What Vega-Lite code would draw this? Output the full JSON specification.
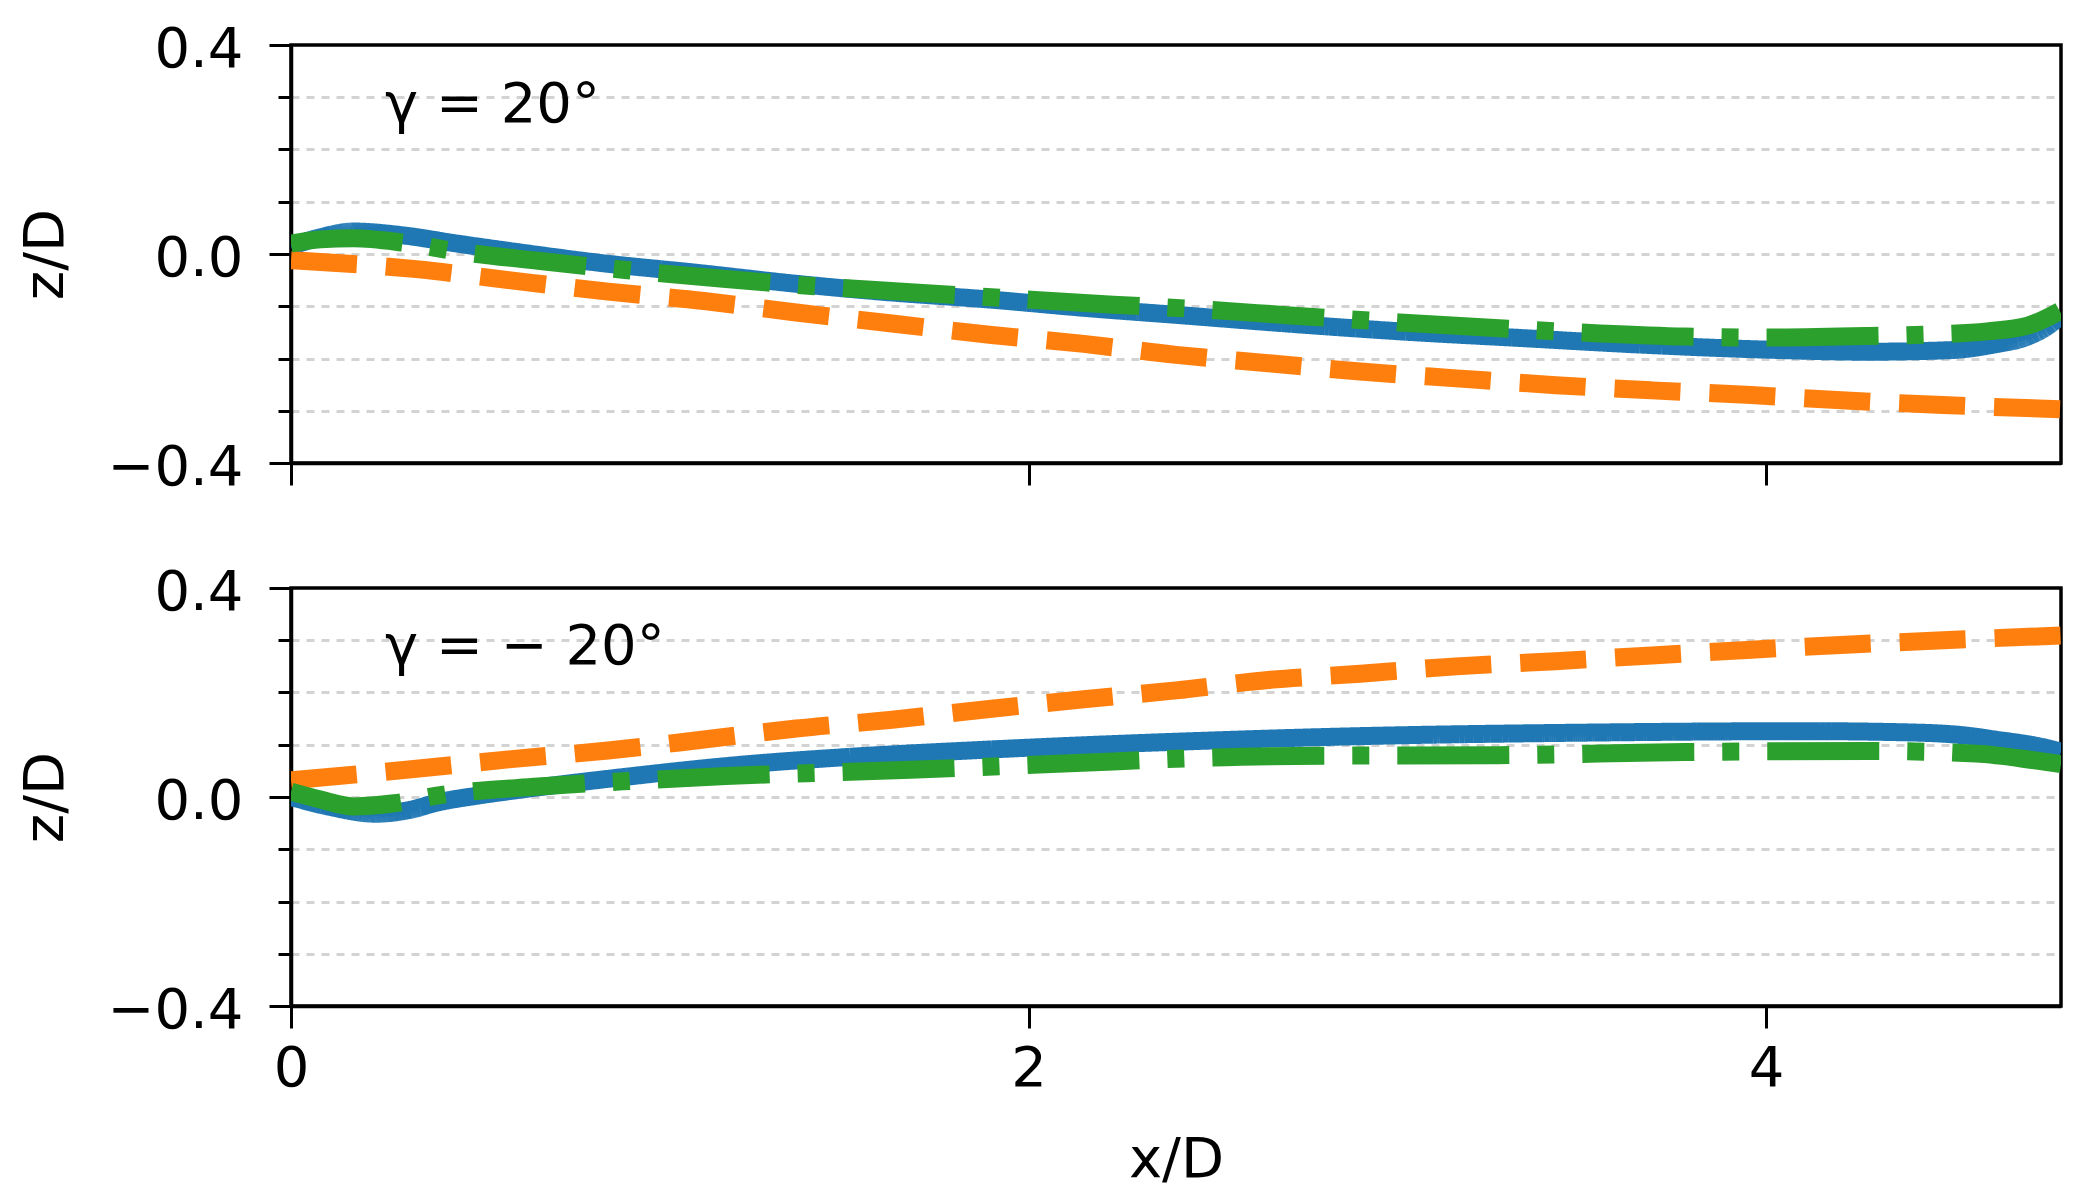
{
  "$schema": "https://vega.github.io/schema/vega-lite/v6.json",
  "background": "white",
  "padding": {"left": 15, "top": 19, "right": 20, "bottom": 0},
  "config": {
    "font": "DejaVu Sans",
    "view": {"stroke": "black", "strokeWidth": 3.5},
    "concat": {"spacing": 65},
    "axis": {
      "domainColor": "black",
      "domainWidth": 3.5,
      "tickColor": "black",
      "tickWidth": 3,
      "labelColor": "black",
      "labelFont": "DejaVu Sans",
      "labelFontSize": 56,
      "labelFlush": false,
      "titleColor": "black",
      "titleFont": "DejaVu Sans",
      "titleFontSize": 56,
      "titleFontWeight": "normal"
    }
  },
  "datasets": {
    "top": [
      {"style": "solid", "x": 0, "z": 0.015},
      {"style": "solid", "x": 0.08, "z": 0.032},
      {"style": "solid", "x": 0.17, "z": 0.043},
      {"style": "solid", "x": 0.3, "z": 0.036},
      {"style": "solid", "x": 0.45, "z": 0.02},
      {"style": "solid", "x": 0.6, "z": 0.005},
      {"style": "solid", "x": 0.85, "z": -0.018},
      {"style": "solid", "x": 1.1, "z": -0.036},
      {"style": "solid", "x": 1.37, "z": -0.057},
      {"style": "solid", "x": 1.6, "z": -0.072},
      {"style": "solid", "x": 1.91, "z": -0.088},
      {"style": "solid", "x": 2.15, "z": -0.103},
      {"style": "solid", "x": 2.41, "z": -0.117},
      {"style": "solid", "x": 2.72, "z": -0.134},
      {"style": "solid", "x": 3.03, "z": -0.149},
      {"style": "solid", "x": 3.34, "z": -0.161},
      {"style": "solid", "x": 3.65, "z": -0.173},
      {"style": "solid", "x": 4.0, "z": -0.183},
      {"style": "solid", "x": 4.28, "z": -0.187},
      {"style": "solid", "x": 4.5, "z": -0.184},
      {"style": "solid", "x": 4.62, "z": -0.173},
      {"style": "solid", "x": 4.71, "z": -0.158},
      {"style": "solid", "x": 4.76, "z": -0.14},
      {"style": "solid", "x": 4.8, "z": -0.118},
      {"style": "dashed", "x": 0, "z": -0.012},
      {"style": "dashed", "x": 0.34, "z": -0.029},
      {"style": "dashed", "x": 0.59, "z": -0.05},
      {"style": "dashed", "x": 0.86, "z": -0.072},
      {"style": "dashed", "x": 1.12, "z": -0.09},
      {"style": "dashed", "x": 1.37, "z": -0.112},
      {"style": "dashed", "x": 1.63, "z": -0.133},
      {"style": "dashed", "x": 1.9, "z": -0.155},
      {"style": "dashed", "x": 2.15, "z": -0.172},
      {"style": "dashed", "x": 2.4, "z": -0.193},
      {"style": "dashed", "x": 2.65, "z": -0.209},
      {"style": "dashed", "x": 2.9, "z": -0.225},
      {"style": "dashed", "x": 3.16, "z": -0.238},
      {"style": "dashed", "x": 3.43, "z": -0.251},
      {"style": "dashed", "x": 3.69, "z": -0.261},
      {"style": "dashed", "x": 3.96, "z": -0.27},
      {"style": "dashed", "x": 4.23, "z": -0.281},
      {"style": "dashed", "x": 4.48, "z": -0.289},
      {"style": "dashed", "x": 4.8, "z": -0.297},
      {"style": "dashdot", "x": 0, "z": 0.02},
      {"style": "dashdot", "x": 0.08, "z": 0.028},
      {"style": "dashdot", "x": 0.17, "z": 0.03},
      {"style": "dashdot", "x": 0.3, "z": 0.022},
      {"style": "dashdot", "x": 0.45, "z": 0.005},
      {"style": "dashdot", "x": 0.67, "z": -0.013},
      {"style": "dashdot", "x": 0.9, "z": -0.03},
      {"style": "dashdot", "x": 1.18, "z": -0.048},
      {"style": "dashdot", "x": 1.45, "z": -0.063},
      {"style": "dashdot", "x": 1.68, "z": -0.073},
      {"style": "dashdot", "x": 1.95, "z": -0.085},
      {"style": "dashdot", "x": 2.23, "z": -0.097},
      {"style": "dashdot", "x": 2.47, "z": -0.106},
      {"style": "dashdot", "x": 2.72, "z": -0.118},
      {"style": "dashdot", "x": 3.03, "z": -0.132},
      {"style": "dashdot", "x": 3.3, "z": -0.143},
      {"style": "dashdot", "x": 3.55, "z": -0.152},
      {"style": "dashdot", "x": 3.78, "z": -0.158},
      {"style": "dashdot", "x": 4.0, "z": -0.16},
      {"style": "dashdot", "x": 4.28, "z": -0.157},
      {"style": "dashdot", "x": 4.44, "z": -0.154},
      {"style": "dashdot", "x": 4.6, "z": -0.148},
      {"style": "dashdot", "x": 4.71, "z": -0.137},
      {"style": "dashdot", "x": 4.8, "z": -0.108}
    ],
    "bottom": [
      {"style": "solid", "x": 0, "z": 0.0},
      {"style": "solid", "x": 0.1, "z": -0.018},
      {"style": "solid", "x": 0.23, "z": -0.032},
      {"style": "solid", "x": 0.32, "z": -0.025},
      {"style": "solid", "x": 0.4, "z": -0.01},
      {"style": "solid", "x": 0.5, "z": 0.002},
      {"style": "solid", "x": 0.6, "z": 0.012},
      {"style": "solid", "x": 0.9, "z": 0.038},
      {"style": "solid", "x": 1.21, "z": 0.061},
      {"style": "solid", "x": 1.52, "z": 0.077},
      {"style": "solid", "x": 1.84, "z": 0.089},
      {"style": "solid", "x": 2.15, "z": 0.099},
      {"style": "solid", "x": 2.41, "z": 0.106},
      {"style": "solid", "x": 2.87, "z": 0.116},
      {"style": "solid", "x": 3.49, "z": 0.123},
      {"style": "solid", "x": 4.11, "z": 0.126},
      {"style": "solid", "x": 4.42, "z": 0.123},
      {"style": "solid", "x": 4.55, "z": 0.117},
      {"style": "solid", "x": 4.62, "z": 0.11},
      {"style": "solid", "x": 4.74, "z": 0.097},
      {"style": "solid", "x": 4.8, "z": 0.087},
      {"style": "dashed", "x": 0, "z": 0.032},
      {"style": "dashed", "x": 0.34, "z": 0.054},
      {"style": "dashed", "x": 0.59, "z": 0.072},
      {"style": "dashed", "x": 0.86, "z": 0.089},
      {"style": "dashed", "x": 1.12, "z": 0.11},
      {"style": "dashed", "x": 1.37, "z": 0.131},
      {"style": "dashed", "x": 1.63, "z": 0.148},
      {"style": "dashed", "x": 1.9, "z": 0.169},
      {"style": "dashed", "x": 2.15, "z": 0.187},
      {"style": "dashed", "x": 2.4, "z": 0.204},
      {"style": "dashed", "x": 2.65, "z": 0.224},
      {"style": "dashed", "x": 2.9, "z": 0.236},
      {"style": "dashed", "x": 3.16, "z": 0.25},
      {"style": "dashed", "x": 3.43, "z": 0.26},
      {"style": "dashed", "x": 3.69, "z": 0.271},
      {"style": "dashed", "x": 3.96, "z": 0.282},
      {"style": "dashed", "x": 4.23, "z": 0.292},
      {"style": "dashed", "x": 4.48, "z": 0.3},
      {"style": "dashed", "x": 4.8, "z": 0.309},
      {"style": "dashdot", "x": 0, "z": 0.01},
      {"style": "dashdot", "x": 0.08, "z": -0.005},
      {"style": "dashdot", "x": 0.17, "z": -0.018},
      {"style": "dashdot", "x": 0.28, "z": -0.012},
      {"style": "dashdot", "x": 0.4, "z": 0.003},
      {"style": "dashdot", "x": 0.67, "z": 0.02},
      {"style": "dashdot", "x": 0.9, "z": 0.03},
      {"style": "dashdot", "x": 1.18, "z": 0.04},
      {"style": "dashdot", "x": 1.68, "z": 0.052},
      {"style": "dashdot", "x": 2.23, "z": 0.068},
      {"style": "dashdot", "x": 2.47, "z": 0.075},
      {"style": "dashdot", "x": 2.8, "z": 0.079},
      {"style": "dashdot", "x": 3.26, "z": 0.08},
      {"style": "dashdot", "x": 3.78, "z": 0.086},
      {"style": "dashdot", "x": 4.28, "z": 0.088},
      {"style": "dashdot", "x": 4.57, "z": 0.083},
      {"style": "dashdot", "x": 4.73, "z": 0.07},
      {"style": "dashdot", "x": 4.8, "z": 0.063}
    ]
  },
  "vconcat": [
    {
      "width": 1770,
      "height": 418,
      "encoding": {
        "x": {
          "field": "x", "type": "quantitative",
          "scale": {"domain": [0, 4.8], "nice": false, "zero": false},
          "axis": {"values": [0, 2, 4], "labels": false, "title": null, "grid": false, "tickSize": 22}
        },
        "y": {
          "field": "z", "type": "quantitative",
          "scale": {"domain": [-0.4, 0.4], "nice": false},
          "axis": {
            "values": [-0.4, -0.3, -0.2, -0.1, 0, 0.1, 0.2, 0.3, 0.4],
            "labelExpr": "abs(datum.value) < 0.01 || abs(datum.value) > 0.39 ? format(datum.value, '.1f') : ''",
            "tickSize": {"condition": {"test": "abs(datum.value) < 0.01 || abs(datum.value) > 0.39", "value": 22}, "value": 13},
            "labelPadding": 26,
            "labelOffset": 4,
            "grid": true, "gridColor": "#d3d3d3", "gridDash": [8, 7], "gridWidth": 3,
            "gridOpacity": {"condition": {"test": "abs(datum.value) > 0.39", "value": 0}, "value": 1},
            "title": "z/D", "titleAngle": -90, "titleAlign": "center", "titleBaseline": "alphabetic",
            "titleX": -229, "titleY": 209
          }
        }
      },
      "layer": [
        {
          "data": {"name": "top"},
          "mark": {"type": "line", "strokeWidth": 18, "clip": true, "interpolate": "monotone"},
          "encoding": {
            "color": {"field": "style", "type": "nominal", "scale": {"domain": ["solid", "dashed", "dashdot"], "range": ["#1f77b4", "#ff7f0e", "#2ca02c"]}, "legend": null},
            "strokeDash": {"field": "style", "type": "nominal", "scale": {"domain": ["solid", "dashed", "dashdot"], "range": [[1, 0], [66, 29], [112, 28, 17, 28]]}, "legend": null}
          }
        },
        {
          "data": {"values": [{"x": 0.255, "z": 0.253, "label": "γ = 20°"}]},
          "mark": {"type": "text", "align": "left", "baseline": "alphabetic", "fontSize": 56, "font": "DejaVu Sans", "color": "black"},
          "encoding": {"text": {"field": "label"}}
        }
      ]
    },
    {
      "width": 1770,
      "height": 418,
      "encoding": {
        "x": {
          "field": "x", "type": "quantitative",
          "scale": {"domain": [0, 4.8], "nice": false, "zero": false},
          "axis": {"values": [0, 2, 4], "format": "d", "grid": false, "tickSize": 22, "labelPadding": 13,
                   "title": "x/D", "titleBaseline": "alphabetic", "titleY": 170}
        },
        "y": {
          "field": "z", "type": "quantitative",
          "scale": {"domain": [-0.4, 0.4], "nice": false},
          "axis": {
            "values": [-0.4, -0.3, -0.2, -0.1, 0, 0.1, 0.2, 0.3, 0.4],
            "labelExpr": "abs(datum.value) < 0.01 || abs(datum.value) > 0.39 ? format(datum.value, '.1f') : ''",
            "tickSize": {"condition": {"test": "abs(datum.value) < 0.01 || abs(datum.value) > 0.39", "value": 22}, "value": 13},
            "labelPadding": 26,
            "labelOffset": 4,
            "grid": true, "gridColor": "#d3d3d3", "gridDash": [8, 7], "gridWidth": 3,
            "gridOpacity": {"condition": {"test": "abs(datum.value) > 0.39", "value": 0}, "value": 1},
            "title": "z/D", "titleAngle": -90, "titleAlign": "center", "titleBaseline": "alphabetic",
            "titleX": -229, "titleY": 209
          }
        }
      },
      "layer": [
        {
          "data": {"name": "bottom"},
          "mark": {"type": "line", "strokeWidth": 18, "clip": true, "interpolate": "monotone"},
          "encoding": {
            "color": {"field": "style", "type": "nominal", "scale": {"domain": ["solid", "dashed", "dashdot"], "range": ["#1f77b4", "#ff7f0e", "#2ca02c"]}, "legend": null},
            "strokeDash": {"field": "style", "type": "nominal", "scale": {"domain": ["solid", "dashed", "dashdot"], "range": [[1, 0], [66, 29], [112, 28, 17, 28]]}, "legend": null}
          }
        },
        {
          "data": {"values": [{"x": 0.255, "z": 0.254, "label": "γ = − 20°"}]},
          "mark": {"type": "text", "align": "left", "baseline": "alphabetic", "fontSize": 56, "font": "DejaVu Sans", "color": "black"},
          "encoding": {"text": {"field": "label"}}
        }
      ]
    }
  ]
}
